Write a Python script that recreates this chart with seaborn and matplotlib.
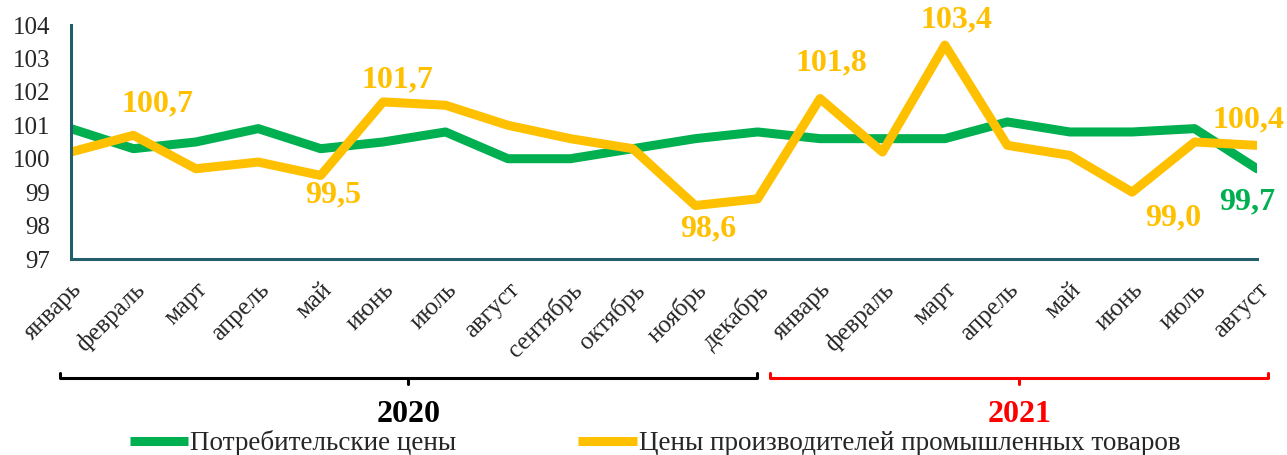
import matplotlib
matplotlib.use('Agg')
import matplotlib.pyplot as plt
import matplotlib.transforms as mtransforms
import seaborn as sns
import pandas as pd

months = ['январь', 'февраль', 'март', 'апрель', 'май', 'июнь', 'июль', 'август',
          'сентябрь', 'октябрь', 'ноябрь', 'декабрь',
          'январь', 'февраль', 'март', 'апрель', 'май', 'июнь', 'июль', 'август']
consumer = [100.9, 100.3, 100.5, 100.9, 100.3, 100.5, 100.8, 100.0, 100.0, 100.3,
            100.6, 100.8, 100.6, 100.6, 100.6, 101.1, 100.8, 100.8, 100.9, 99.7]
producer = [100.2, 100.7, 99.7, 99.9, 99.5, 101.7, 101.6, 101.0, 100.6, 100.3,
            98.6, 98.8, 101.8, 100.2, 103.4, 100.4, 100.1, 99.0, 100.5, 100.4]
series_names = ['Потребительские цены', 'Цены производителей промышленных товаров']
years = ['2020', '2021']

# (index, series, label text, dx, dy) - offsets in pixels
labels = [(1, 1, '100,7', 24, 31), (4, 1, '99,5', 12, -19), (5, 1, '101,7', 14, 22),
          (10, 1, '98,6', 13, -23), (12, 1, '101,8', 11, 36), (14, 1, '103,4', 12, 25),
          (17, 1, '99,0', 41, -26), (19, 1, '100,4', -8, 25), (19, 0, '99,7', -10, -33)]

green = '#00B050'
yellow = '#FFC000'
axcol = '#255E6B'

n = len(months)
df = pd.DataFrame({
    'idx': list(range(n)) * 2,
    'value': consumer + producer,
    'series': [series_names[0]] * n + [series_names[1]] * n,
})

sns.set_style('white')
plt.rcParams['font.family'] = ['Liberation Serif', 'DejaVu Serif']

fig = plt.figure(figsize=(12.87, 4.55), dpi=100)
ax = fig.add_axes([71 / 1287, 1 - 259 / 455, (1257 - 71) / 1287, 234 / 455])

sns.lineplot(data=df, x='idx', y='value', hue='series',
             palette=[green, yellow], linewidth=6.5, ax=ax, legend=True)

ax.set_xlim(0, n - 1)
ax.set_ylim(97, 104)
ax.set_yticks(range(97, 105))
ax.set_xticks(range(n))
ax.set_xticklabels(months, rotation=45, ha='right', rotation_mode='anchor', fontsize=18)
ax.tick_params(axis='y', labelsize=18, length=6, width=2.2, color=axcol, pad=9, direction='out')
ax.tick_params(axis='x', length=6, width=2.2, color=axcol, pad=8, direction='out')
ax.set_xlabel('')
ax.set_ylabel('')
for s in ['top', 'right']:
    ax.spines[s].set_visible(False)
for s in ['left', 'bottom']:
    ax.spines[s].set_color(axcol)
    ax.spines[s].set_linewidth(2.2)

vals = [consumer, producer]
cols = [green, yellow]
for i, s, txt, dx, dy in labels:
    ax.annotate(txt, (i, vals[s][i]), xytext=(dx, dy), textcoords='offset pixels',
                ha='center', va='center', fontsize=23, fontweight='bold', color=cols[s])

# year brackets below the axis
tr = mtransforms.blended_transform_factory(ax.transData, ax.transAxes)
brackets = [(-0.18, 10.99, 'black'), (11.2, 19.18, 'red')]
for (x0, x1, c), yr in zip(brackets, years):
    yb = -0.509
    ax.plot([x0, x0, x1, x1], [yb + 0.02, yb, yb, yb + 0.02], color=c, lw=2.2,
            transform=tr, clip_on=False)
    xm = (x0 + x1) / 2
    ax.plot([xm, xm], [yb, yb - 0.025], color=c, lw=2.2, transform=tr, clip_on=False)
    ax.text(xm, -0.665, yr, transform=tr, ha='center', va='center',
            fontsize=23, fontweight='bold', color=c)

leg = ax.get_legend()
handles = leg.legend_handles
leg.remove()
fig.legend(handles, series_names, loc='center left', bbox_to_anchor=(130 / 1287, 1 - 443 / 455),
           ncol=2, frameon=False, fontsize=19.5, handlelength=2.15, handletextpad=0.08,
           columnspacing=4.5, borderpad=0, borderaxespad=0)
for h in fig.legends[0].legend_handles:
    h.set_linewidth(6.5)
    h.set_solid_capstyle('butt')

fig.savefig('out.png', dpi=100)
